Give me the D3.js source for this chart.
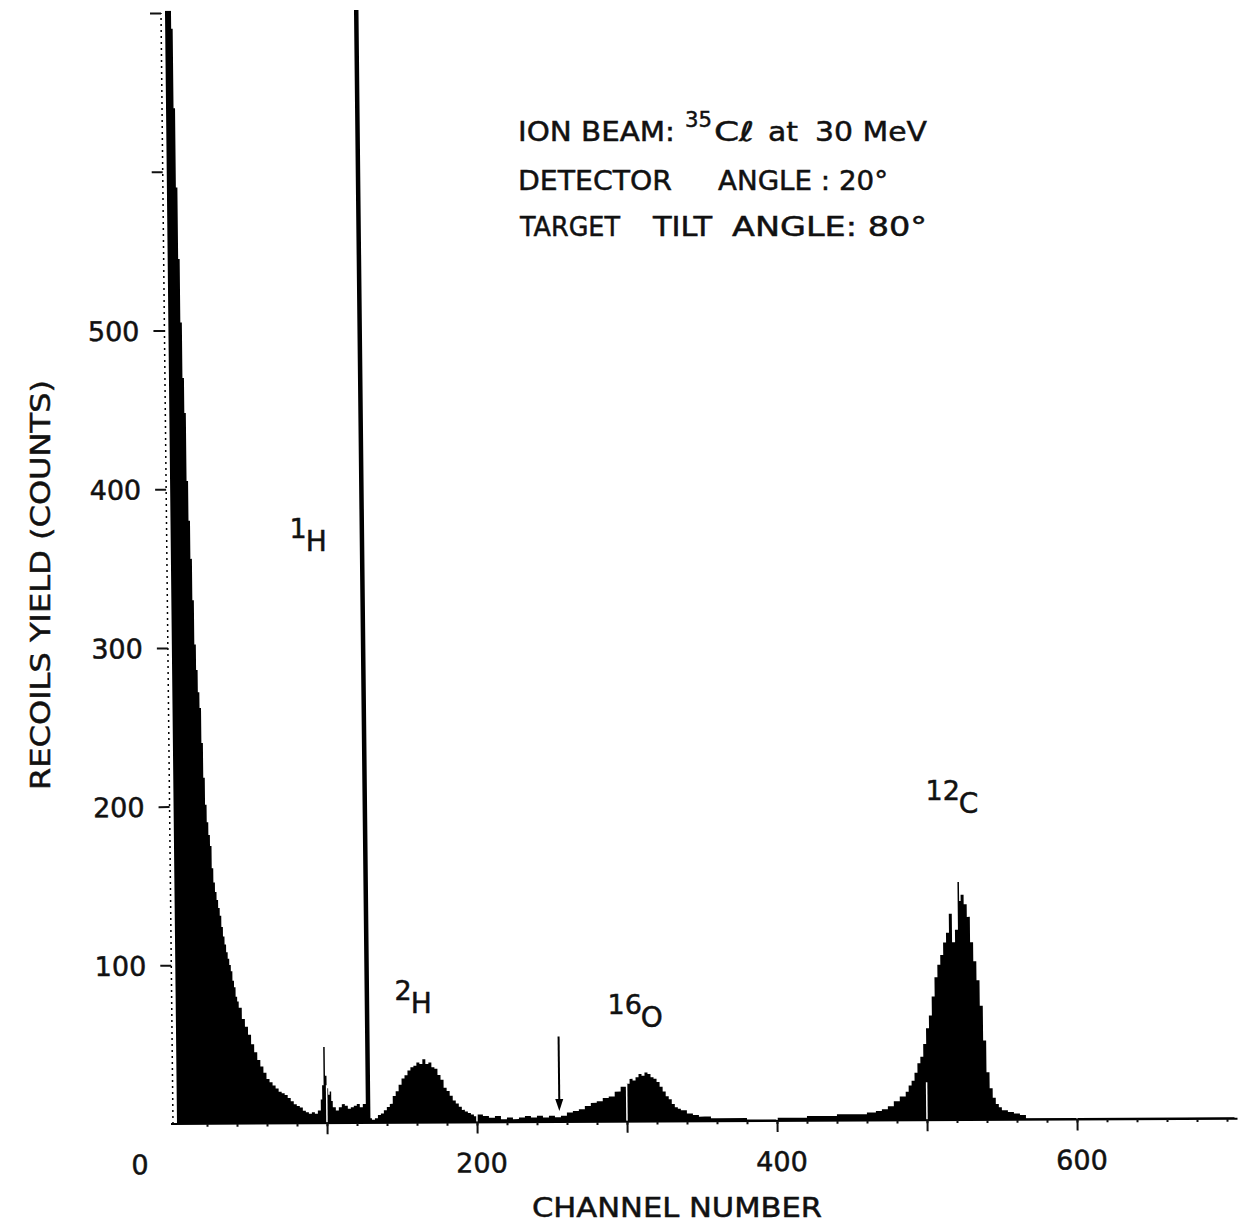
<!DOCTYPE html>
<html lang="en">
<head>
<meta charset="UTF-8">
<title>Recoil spectrum, 35Cl at 30 MeV</title>
<script src="https://d3js.org/d3.v7.min.js"></script>
<style>
  body { margin: 0; background: #fff; }
  svg text { font-family: "DejaVu Sans", sans-serif; fill: #111; stroke: #111; stroke-width: 0.5; }
  .tick line { stroke: #111; stroke-width: 2; }
</style>
</head>
<body>
<script>
// step histogram: channel where each step starts, counts in it
const channels = [0, 2, 3, 4, 5, 6, 7, 8, 9, 10, 11, 12, 13, 14, 15, 16, 17, 18, 19, 20,
  21, 22, 23, 24, 25, 26, 27, 28, 29, 30, 31, 32, 33, 34, 35, 36, 37, 38, 39, 40,
  41, 42, 44, 46, 48, 50, 52, 54, 56, 58, 60, 62, 64, 66, 68, 70, 72, 74, 76, 78,
  80, 82, 84, 86, 88, 90, 92, 94, 96, 97, 98, 99, 100, 101, 102, 103, 104, 106, 108, 110,
  112, 114, 116, 118, 120, 122, 124, 126, 129, 130, 132, 134, 136, 138, 140, 142, 144, 146, 148, 150,
  152, 154, 156, 158, 160, 162, 164, 166, 168, 170, 172, 174, 176, 178, 180, 182, 184, 186, 188, 190,
  192, 194, 196, 198, 200, 204, 208, 212, 216, 220, 224, 228, 232, 236, 240, 244, 248, 252, 256, 260,
  264, 268, 272, 276, 280, 284, 288, 292, 296, 300, 302, 304, 306, 308, 310, 312, 314, 316, 318, 320,
  322, 324, 326, 328, 330, 332, 334, 336, 340, 344, 348, 352, 356, 360, 380, 400, 420, 440, 450, 460,
  466, 470, 474, 478, 482, 486, 488, 490, 492, 494, 496, 498, 500, 502, 504, 506, 508, 510, 512, 514,
  516, 518, 520, 522, 523, 524, 526, 528, 530, 532, 534, 536, 538, 540, 542, 544, 546, 548, 550, 554,
  558, 562, 566, 705];
const counts = [1600, 1100, 760, 690, 640, 590, 545, 505, 470, 448, 405, 380, 356, 330, 302, 286, 272, 262, 240, 218,
  201, 190, 182, 175, 161, 152, 146, 141, 136, 131, 124, 118, 113, 108, 104, 100, 96, 90, 86, 80,
  77, 73, 66, 61, 56, 50, 45, 40, 36, 32, 28, 26, 24, 22, 20, 19, 18, 16, 14, 12,
  11, 10, 8, 7, 6, 7, 6, 8, 15, 24, 48, 30, 22, 18, 20, 14, 10, 8, 10, 12,
  11, 9, 10, 11, 12, 10, 12, 1500, 3, 2, 3, 5, 6, 8, 10, 12, 17, 20, 24, 28,
  30, 33, 35, 36, 38, 37, 40, 37, 38, 35, 34, 30, 27, 22, 20, 17, 14, 12, 10, 8,
  7, 6, 5, 4, 5, 4, 3, 4, 2, 3, 2, 3, 4, 3, 4, 3, 4, 3, 4, 6,
  7, 8, 10, 12, 13, 15, 16, 19, 22, 24, 27, 26, 28, 30, 29, 31, 30, 28, 27, 25,
  22, 19, 16, 14, 11, 9, 8, 7, 5, 4, 3, 3, 2, 2, 1, 2, 3, 4, 4, 5,
  6, 7, 9, 12, 15, 18, 22, 25, 30, 36, 40, 48, 58, 66, 78, 90, 98, 104, 112, 118,
  130, 112, 120, 150, 138, 142, 136, 128, 112, 100, 88, 72, 50, 30, 20, 14, 10, 8, 6, 5,
  4, 3, 1, 0];

const xTickLabels = [0, 200, 400, 600];
const xMajorTicks = [100, 200, 300, 400, 500, 600];
const yTickValues = [100, 200, 300, 400, 500, 600, 700];
const yTickLabels = [100, 200, 300, 400, 500];

// peak labels: mass number, element, and where they sit (channel, counts)
const peakMass = ["1", "2", "16", "12"];
const peakSymbol = ["H", "H", "O", "C"];
const peakChannel = [75, 145, 287, 499];
const peakCount = [361, 70, 61, 196];

// arrow marking the channel of interest
const arrowChannel = 255;
const arrowFrom = 54, arrowTo = 7;

const W = 1241, H = 1222;
const x = d3.scaleLinear().domain([0, 700]).range([177, 1227]);
const y = d3.scaleLinear().domain([0, 700]).range([1124, 13]);

const svg = d3.select("body").append("svg")
  .attr("width", W)
  .attr("height", H);

// the scanned figure is slightly tilted
const plot = svg.append("g")
  .attr("transform", "matrix(1,-0.005,0.0108,1,-12.14,0.885)");

plot.append("clipPath").attr("id", "clip")
  .append("rect")
  .attr("x", x(-10)).attr("y", y(700) - 2)
  .attr("width", x(710) - x(-10))
  .attr("height", y(0) - y(700) + 2);

const hist = channels.map((c, i) => ({c: c, n: counts[i]}));

const area = d3.area()
  .curve(d3.curveStepAfter)
  .x(d => x(d.c))
  .y0(y(0))
  .y1(d => y(d.n));

plot.append("path")
  .datum(hist)
  .attr("clip-path", "url(#clip)")
  .attr("d", area)
  .attr("fill", "#000");

// white marks where the 100-channel ticks cut through the data
plot.selectAll(".cut")
  .data(xMajorTicks)
  .enter().append("line")
  .attr("x1", d => x(d)).attr("x2", d => x(d))
  .attr("y1", y(0)).attr("y2", y(0) - 38)
  .attr("stroke", "#fff")
  .attr("stroke-width", 1.5);

// baseline
plot.append("line")
  .attr("x1", x(-4)).attr("x2", x(707))
  .attr("y1", y(0)).attr("y2", y(0))
  .attr("stroke", "#000")
  .attr("stroke-width", 2);

// minor ticks every 20 channels
plot.append("g")
  .attr("transform", "translate(0," + y(0) + ")")
  .call(d3.axisBottom(x).tickValues(d3.range(20, 701, 20)).tickSize(3).tickFormat(""))
  .call(g => g.select(".domain").remove());

plot.append("g")
  .attr("transform", "translate(0," + y(0) + ")")
  .call(d3.axisBottom(x).tickValues(xMajorTicks).tickSize(11).tickFormat(""))
  .call(g => g.select(".domain").remove());

const xLab = plot.append("g")
  .attr("transform", "translate(0," + y(0) + ")")
  .call(d3.axisBottom(x).tickValues(xTickLabels).tickSize(0).tickFormat(d3.format("d")))
  .attr("font-family", null)
  .attr("font-size", null)
  .call(g => g.select(".domain").remove());

xLab.selectAll("text")
  .attr("y", 50)
  .attr("dy", 0)
  .style("font-size", "27px")
  .attr("x", d => d === 0 ? -38 : 4);

// y axis
const axisX = x(0) - 4;

plot.append("line")
  .attr("x1", axisX).attr("x2", axisX)
  .attr("y1", y(0)).attr("y2", y(700))
  .attr("stroke", "#000")
  .attr("stroke-width", 1.5)
  .attr("stroke-dasharray", "2,4");

const yAx = plot.append("g")
  .attr("transform", "translate(" + axisX + ",0)")
  .call(d3.axisLeft(y).tickValues(yTickValues).tickSize(11).tickPadding(14)
    .tickFormat(d => yTickLabels.includes(d) ? d : ""))
  .attr("font-family", null)
  .attr("font-size", null)
  .call(g => g.select(".domain").remove());

yAx.selectAll("text")
  .style("font-size", "27px")
  .attr("dy", "0.36em");

// arrow
plot.append("line")
  .attr("x1", x(arrowChannel)).attr("x2", x(arrowChannel))
  .attr("y1", y(arrowFrom)).attr("y2", y(arrowTo) - 8)
  .attr("stroke", "#000")
  .attr("stroke-width", 2);

plot.append("path")
  .attr("d", d3.line()([
    [x(arrowChannel) - 4, y(arrowTo) - 12],
    [x(arrowChannel) + 4, y(arrowTo) - 12],
    [x(arrowChannel), y(arrowTo)]]) + "Z")
  .attr("fill", "#000");

// peak labels
peakMass.forEach(function (m, i) {
  const t = svg.append("text")
    .attr("x", x(peakChannel[i]))
    .attr("y", y(peakCount[i]) - 13);
  t.append("tspan")
    .style("font-size", "27px")
    .text(m);
  t.append("tspan")
    .attr("dy", 13)
    .attr("dx", -1)
    .style("font-size", "28px")
    .text(peakSymbol[i]);
});

// run conditions
const info = [
  ["ION BEAM:", 518, 141, 157, 27],
  ["35", 685, 127, 27, 22],
  ["C\u2113", 714, 141, 40, 27],
  ["at", 768, 141, 30, 27],
  ["30 MeV", 815, 141, 112, 27],
  ["DETECTOR", 518, 190, 154, 27],
  ["ANGLE : 20\u00b0", 718, 190, 170, 27],
  ["TARGET", 520, 236, 100, 27],
  ["TILT", 653, 236, 59, 27],
  ["ANGLE: 80\u00b0", 732, 236, 195, 27]
];

svg.selectAll(".info")
  .data(info)
  .enter().append("text")
  .attr("class", "info")
  .attr("x", d => d[1])
  .attr("y", d => d[2])
  .attr("textLength", d => d[3])
  .attr("lengthAdjust", "spacingAndGlyphs")
  .style("font-size", d => d[4] + "px")
  .text(d => d[0]);

// axis titles
svg.append("text")
  .attr("x", 532)
  .attr("y", 1217)
  .attr("textLength", 290)
  .attr("lengthAdjust", "spacingAndGlyphs")
  .style("font-size", "27px")
  .text("CHANNEL NUMBER");

svg.append("text")
  .attr("transform", "translate(50,790) rotate(-90)")
  .attr("textLength", 410)
  .attr("lengthAdjust", "spacingAndGlyphs")
  .style("font-size", "27px")
  .text("RECOILS  YIELD  (COUNTS)");
</script>
</body>
</html>
